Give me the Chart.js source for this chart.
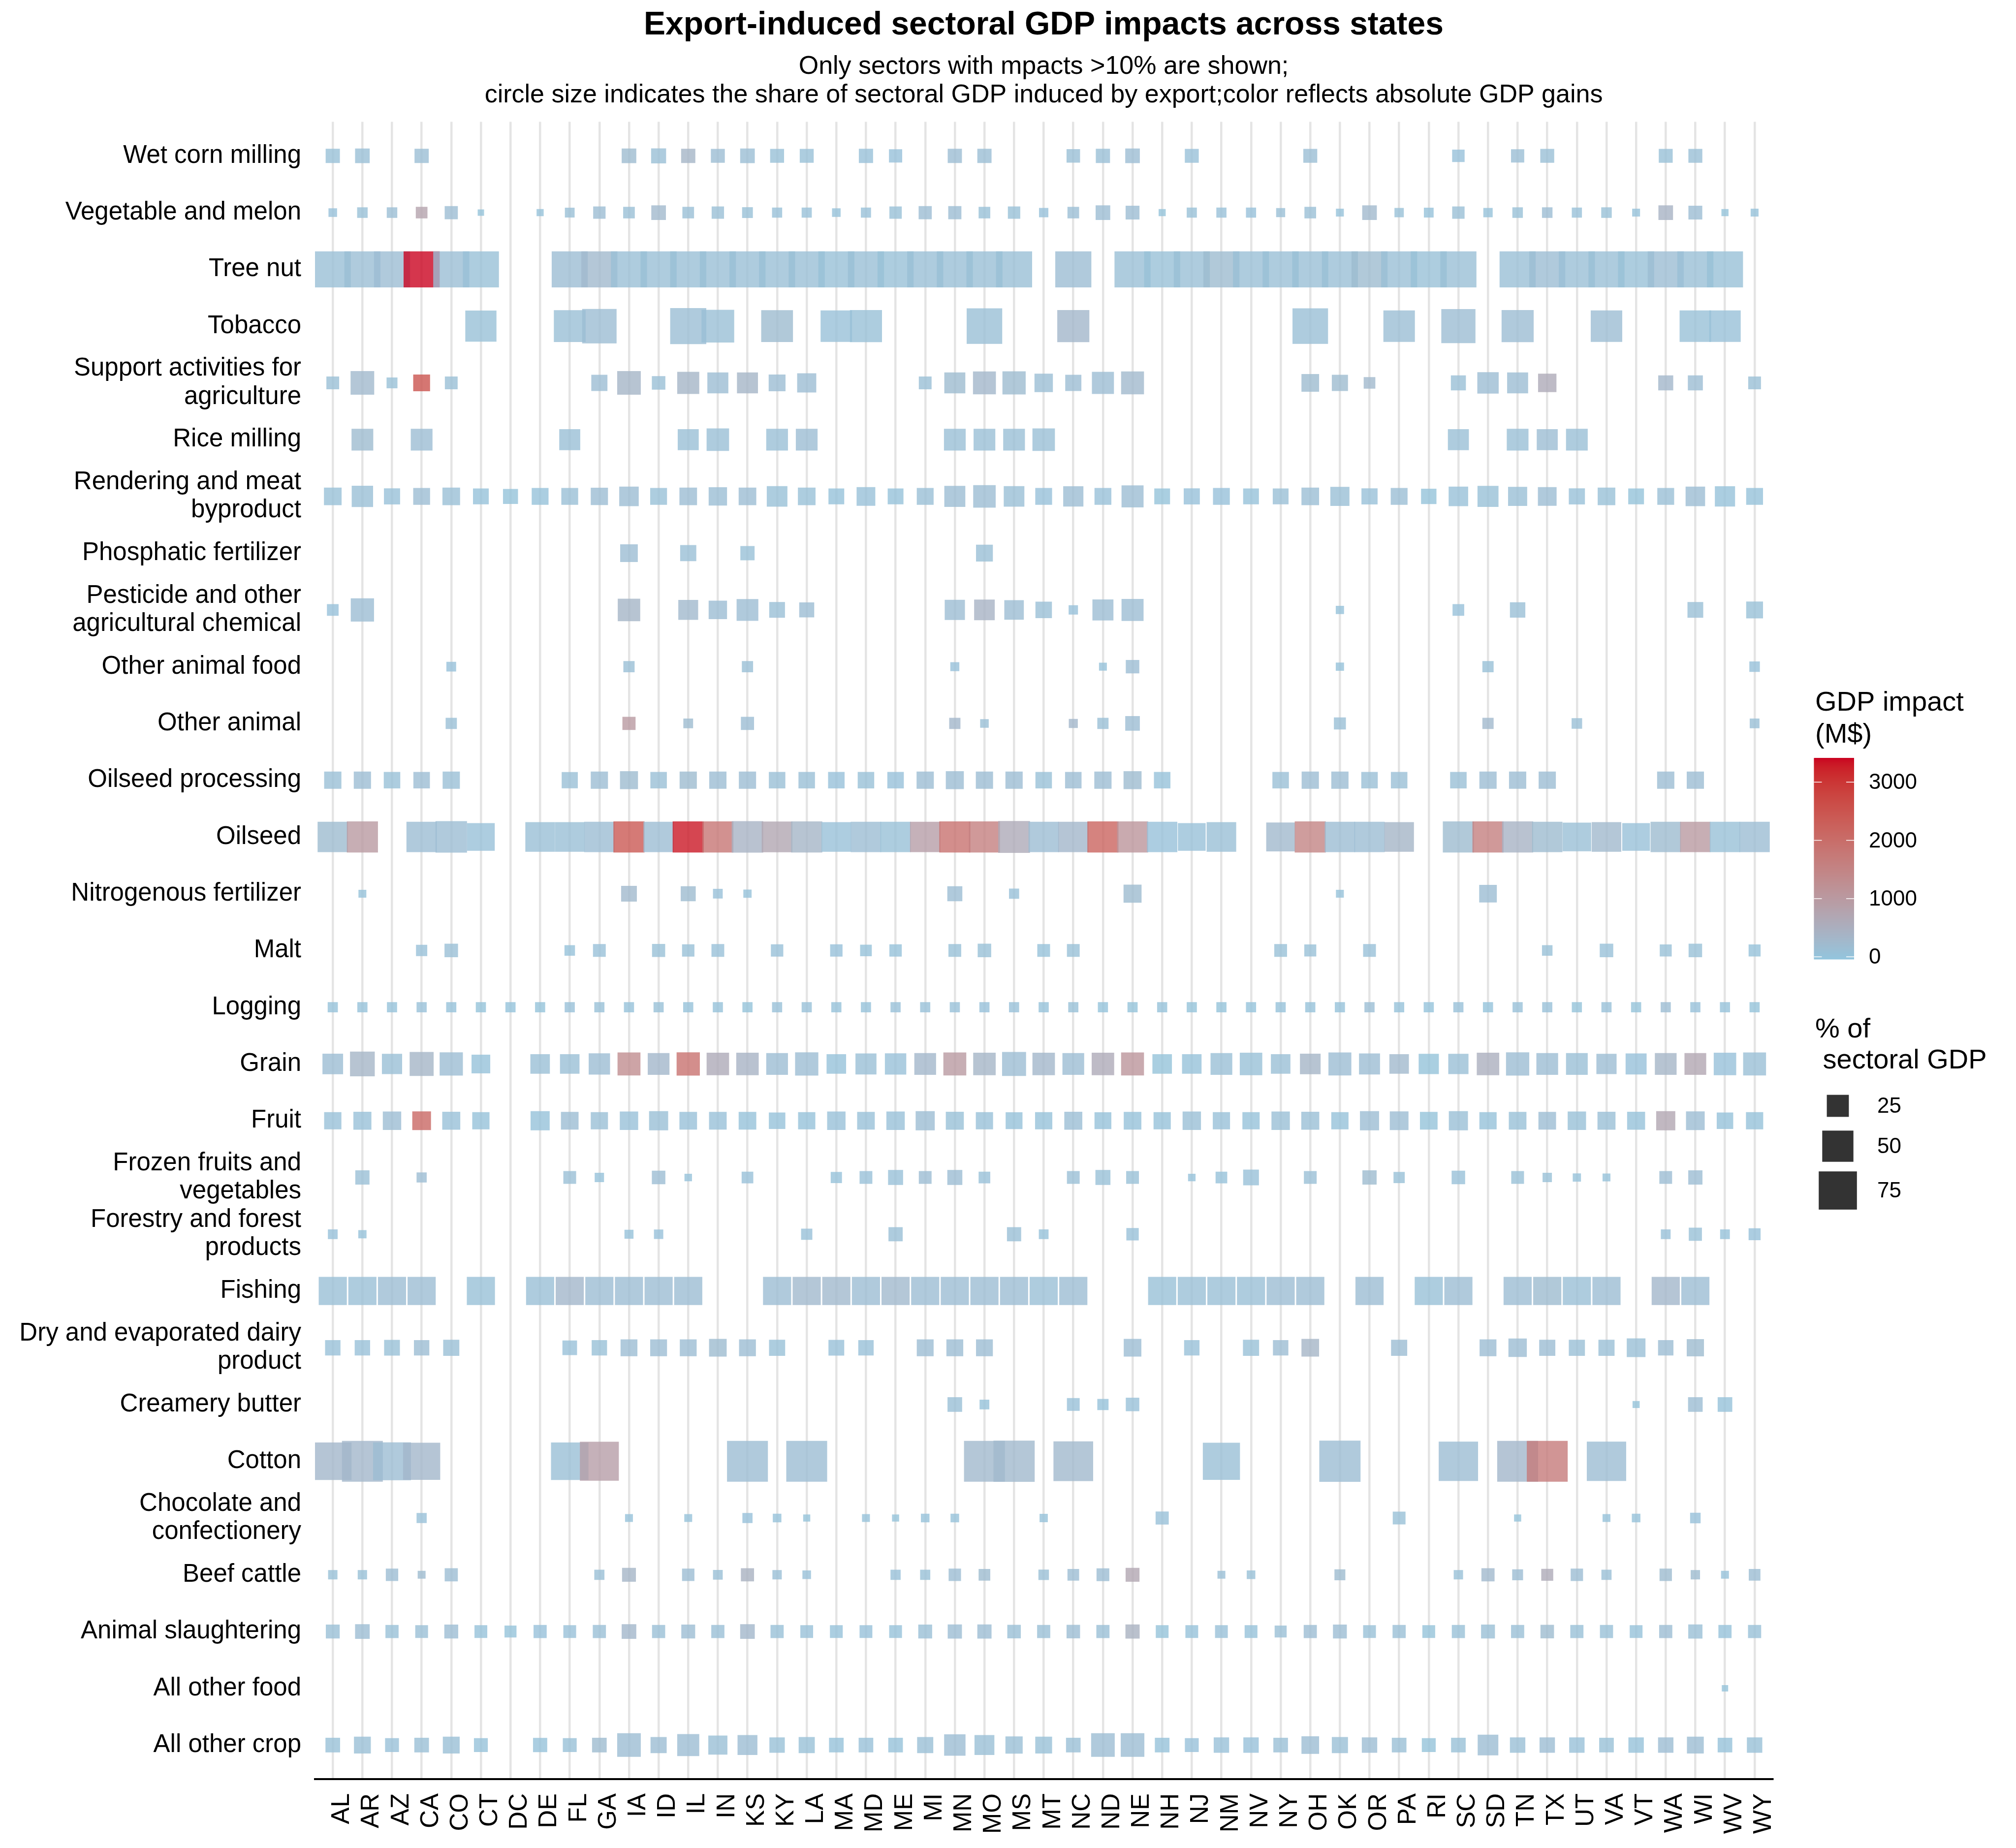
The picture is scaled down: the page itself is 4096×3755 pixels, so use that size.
<!DOCTYPE html>
<html><head><meta charset="utf-8">
<script src="https://cdn.jsdelivr.net/npm/chart.js@4.4.1/dist/chart.umd.min.js"></script>
<style>html,body{margin:0;padding:0;background:#fff;}#wrap{width:4096px;height:3755px;}</style>
</head><body><div id="wrap"><canvas id="c" width="4096" height="3755"></canvas></div>
<script>
const _ = null;
const states = ['AL','AR','AZ','CA','CO','CT','DC','DE','FL','GA','IA','ID','IL','IN','KS','KY','LA','MA','MD','ME','MI','MN','MO','MS','MT','NC','ND','NE','NH','NJ','NM','NV','NY','OH','OK','OR','PA','RI','SC','SD','TN','TX','UT','VA','VT','WA','WI','WV','WY'];
// top to bottom
const sectors = ['Wet corn milling','Vegetable and melon','Tree nut','Tobacco','Support activities for\nagriculture','Rice milling','Rendering and meat\nbyproduct','Phosphatic fertilizer','Pesticide and other\nagricultural chemical','Other animal food','Other animal','Oilseed processing','Oilseed','Nitrogenous fertilizer','Malt','Logging','Grain','Fruit','Frozen fruits and\nvegetables','Forestry and forest\nproducts','Fishing','Dry and evaporated dairy\nproduct','Creamery butter','Cotton','Chocolate and\nconfectionery','Beef cattle','Animal slaughtering','All other food','All other crop'];

// % of sectoral GDP induced by export (rows = sectors, cols = states)
const sharePct = [
[10.4,11,_,10.4,_,_,_,_,_,_, 11,11.6,10.4,10,11,10,10,_,10.4,9, _,10.4,10.4,_,_,9.4,10.4,11,_,10, _,_,_,10,_,_,_,_,8,_, 9,10,_,_,_,10,10,_,_],
[3.8,5.7,5.7,7,8.9,2.1,_,2.6,4.9,7.9, 7,11,7,7.9,6,5.3,5.3,3.8,5.3,7.9, 8.9,8.9,7,7.9,4.5,7,11,9.9,2.6,5.3, 5.3,5.3,4.2,7,3.2,11,4.5,4.9,7.9,4.5, 5.7,5.7,5.3,5.7,3.2,11,9.9,2.6,3.2],
[67,67,67,67,67,67,_,_,67,67, 67,67,67,67,67,67,67,67,67,67, 67,67,67,67,_,67,_,67,67,67, 67,67,67,67,67,67,67,67,67,_, 67,67,67,67,67,67,67,67,_],
[_,_,_,_,_,50,_,_,52,61, _,_,67,55,_,52,_,51,53,_, _,_,65,_,_,53,_,_,_,_, _,_,_,65,_,_,51,_,60,_, 53,_,_,51,_,_,51,51,_],
[8.4,28.7,6.1,14.6,8.4,_,_,_,_,13.4, 28.7,9.4,25,22.7,22.7,14.6,18.8,_,_,_, 8.4,22.7,27,27.8,17.4,13.4,25,27,_,_, _,_,_,16,13.4,7,_,_,11.6,23.5, 22.7,17.4,_,_,_,11.6,11.6,_,8.4],
[_,24.3,_,24.3,_,_,_,_,22.7,_, _,_,22.7,26,_,24.3,24.3,_,_,_, _,24.3,24.3,24.3,26,_,_,_,_,_, _,_,_,_,_,_,_,_,22.7,_, 24.3,22.7,24.3,_,_,_,_,_,_],
[16,23.5,13.4,14.6,16,12.8,11.6,14.6,14.6,15.3, 19.6,14.6,16,17.4,16,21.9,16,12.8,18,12.8, 14.6,22.7,26,21.9,14.6,21,14.6,25,12.8,13.4, 14.6,12.8,12.8,16,18.8,13.4,14.6,12.2,19.6,22.7, 18.8,18,13.4,16,12.8,14.6,19.6,21,14.6],
[_,_,_,_,_,_,_,_,_,_, 16,_,13.4,_,10.4,_,_,_,_,_, _,_,14.6,_,_,_,_,_,_,_, _,_,_,_,_,_,_,_,_,_, _,_,_,_,_,_,_,_,_],
[7,27.8,_,_,_,_,_,_,_,_, 26,_,20.3,17.4,24.3,12.8,11.6,_,_,_, _,21,21.9,19.6,14,4.5,22.7,25,_,_, _,_,_,_,3.5,_,_,_,7,_, 12.2,_,_,_,_,_,12.8,_,14.6],
[_,_,_,_,4.9,_,_,_,_,_, 6.5,_,_,_,6.5,_,_,_,_,_, _,4.2,_,_,_,_,3.2,9.4,_,_, _,_,_,_,3.5,_,_,_,_,6.5, _,_,_,_,_,_,_,_,5.7],
[_,_,_,_,6.5,_,_,_,_,_, 8.9,_,4.9,_,8.9,_,_,_,_,_, _,6.5,3.8,_,_,4.2,6.5,11,_,_, _,_,_,_,7.4,_,_,_,_,6.5, _,_,5.7,_,_,_,_,_,4.9],
[15.3,15.3,14,14,15.3,_,_,_,13.4,15.3, 16.7,14,15.3,15.3,15.3,14,14,14,14,14, 15.3,16.7,15.3,15.3,14,14,15.3,16.7,14,_, _,_,14,15.3,15.3,14,14,_,14,15.3, 15.3,15.3,_,_,_,15.3,15.3,_,_],
[47.4,49.8,_,47.4,51,39.6,_,45,45,47.4, 49.8,47.4,49.8,49.8,51,48.6,49.8,45,47.4,47.4, 47.4,49.8,49.8,52,47.4,47.4,49.8,49.8,47.4,39.6, 45,_,42.9,49.8,47.4,47.4,45,_,49.8,49.8, 49.8,47.4,42,45,39.6,47.4,47.4,47.4,47.4],
[_,3.2,_,_,_,_,_,_,_,_, 12.8,_,11.6,4.9,3.5,_,_,_,_,_, _,11.6,_,5.3,_,_,_,16.7,_,_, _,_,_,_,3.2,_,_,_,_,16, _,_,_,_,_,_,_,_,_],
[_,_,_,6.5,9.4,_,_,_,5.7,8.4, _,8.9,7.9,8.4,_,7.9,_,7.9,7,7.9, _,8.4,9.4,_,8.4,8.4,_,_,_,_, _,_,8.4,7.4,_,8.4,_,_,_,_, _,5.7,_,9.4,_,7.4,9.4,_,7.4],
[5.3,5.3,5.3,5.3,5.3,5.3,5.3,5.3,5.3,5.3, 5.3,5.3,5.3,5.3,5.3,5.3,5.3,5.3,5.3,5.3, 5.3,5.3,5.3,5.3,5.3,5.3,5.3,5.3,5.3,5.3, 5.3,5.3,5.3,5.3,5.3,5.3,5.3,5.3,5.3,5.3, 5.3,5.3,5.3,5.3,5.3,5.3,5.3,5.3,5.3],
[21.9,31.5,21,29.6,27.8,18,_,19.6,19.6,23.5, 27,24.3,27.8,26,26,24.3,27.8,19.6,22.7,23.5, 24.3,27,26,29.6,26,24.3,26,27,19.6,19.6, 24.3,26,19.6,21.9,27,22.7,19.6,21,21,26, 27.8,24.3,24.3,21,22.7,24.3,24.3,26,27],
[15.3,16.7,17.4,18,16.7,15.3,_,18.8,16,15.3, 17.4,18.8,16,16,16,14,15.3,17.4,16,17.4, 18.8,16.7,15.3,14.6,15.3,16.7,14.6,16,15.3,17.4, 15.3,15.3,17.4,16.7,15.3,18.8,18,16,18.8,15.3, 16,16,17.4,16.7,16.7,18.8,18,14,15.3],
[_,10.4,_,5.3,_,_,_,_,8.4,4.5, _,9.4,2.9,_,7,_,_,6.5,8.4,11.6, 8.4,11.6,7,_,_,8.4,11.6,8.4,_,2.9, 7,12.8,_,8.4,_,10.4,6.5,_,9.4,_, 8.4,4.5,3.5,3.2,_,8.4,10.4,_,_],
[4.9,3.5,_,_,_,_,_,_,_,_, 4.2,4.5,_,_,_,_,6.5,_,_,10.4, _,_,_,10.4,4.9,_,_,7.9,_,_, _,_,_,_,_,_,_,_,_,_, _,_,_,_,_,4.9,8.9,4.9,7.4],
[40.7,40.7,40.7,40.7,_,40.7,_,40.7,40.7,40.7, 40.7,40.7,40.7,_,_,40.7,40.7,40.7,40.7,40.7, 40.7,40.7,40.7,40.7,40.7,40.7,_,_,40.7,40.7, 40.7,40.7,40.7,40.7,_,40.7,_,40.7,40.7,_, 40.7,40.7,40.7,40.7,_,40.7,40.7,_,_],
[12.2,12.2,12.8,12.2,13.4,_,_,_,11,12.2, 14.6,14.6,14.6,16,14.6,13.4,_,12.8,12.2,_, 14.6,14.6,14.6,_,_,_,_,16,_,12.2, _,13.4,12.2,16,_,_,13.4,_,_,14.6, 17.4,13.4,13.4,13.4,18,12.2,15.3,_,_],
[_,_,_,_,_,_,_,_,_,_, _,_,_,_,_,_,_,_,_,_, _,11,4.9,_,_,8.4,6.5,9.4,_,_, _,_,_,_,_,_,_,_,_,_, _,_,_,_,2.6,_,11,11,_],
[72.3,86,73.8,71,_,_,_,_,72.3,78, _,_,_,_,86,_,86,_,_,_, _,_,86,87.5,_,81,_,_,_,_, 71,_,_,_,87.5,_,_,_,79.7,_, 86,86,_,79.7,_,_,_,_,_],
[_,_,_,5.3,_,_,_,_,_,_, 3.2,_,3.2,_,5.3,3.8,2.6,_,3.2,2.6, 3.8,3.8,_,_,3.5,_,_,_,8.9,_, _,_,_,_,_,_,8.4,_,_,_, 2.6,_,_,3.2,3.8,_,5.7,_,_],
[4.5,4.5,7.9,3.2,8.9,_,_,_,_,5.3, 9.9,_,7.9,4.9,8.9,4.5,3.8,_,_,5.3, 5.3,7.9,7,_,5.7,7,8.4,9.9,_,_, 3.2,3.8,_,_,6.1,_,_,_,4.5,8.9, 6.1,7.4,7.9,5.3,_,7.9,4.5,3.2,7],
[9.9,11,8.9,8.4,9.9,8.4,7.4,8.9,8.4,8.9, 11,8.9,9.9,8.9,11,8.9,8.4,8.4,8.4,8.4, 9.9,10.4,10.4,9.4,8.9,9.4,8.9,10.4,8.4,8.4, 8.4,8.4,7.4,8.9,9.9,8.4,8.9,8.4,8.9,9.9, 8.9,9.4,8.9,8.9,8.4,8.9,10.4,8.9,8.9],
[_,_,_,_,_,_,_,_,_,_, _,_,_,_,_,_,_,_,_,_, _,_,_,_,_,_,_,_,_,_, _,_,_,_,_,_,_,_,_,_, _,_,_,_,_,_,_,2.1,_],
[11,14.6,9.9,11,14.6,9.9,_,10.4,9.9,11, 28.7,13.4,25,18.8,20.3,12.2,13.4,11,11,11, 13.4,23.5,20.3,15.3,14.6,11,28.7,28.7,11,9.9, 12.2,12.2,11,16,13.4,12.2,11,9.9,11,21.9, 12.2,12.2,12.2,11,12.2,12.2,14.6,11,12.2]
];

// GDP impact, M$ (same layout)
const gdpImpact = [
[80,100,_,120,_,_,_,_,_,_, 200,100,350,150,120,80,80,_,60,50, _,150,120,_,_,100,100,150,_,60, _,_,_,120,_,_,_,_,50,_, 120,100,_,_,_,80,100,_,_],
[50,80,120,800,150,20,_,30,100,150, 100,250,100,100,80,60,60,40,60,80, 150,150,80,80,50,120,150,150,20,80, 60,50,100,100,40,250,80,40,100,40, 80,150,60,80,30,400,150,20,30],
[100,120,150,3400,120,80,_,_,150,250, 100,100,100,100,100,100,100,80,100,80, 100,100,100,100,_,150,_,100,80,100, 200,100,100,100,100,200,100,80,100,_, 100,150,100,100,80,150,100,80,_],
[_,_,_,_,_,80,_,_,100,150, _,_,120,100,_,200,_,60,80,_, _,_,100,_,_,300,_,_,_,_, _,_,_,100,_,_,120,_,150,_, 150,_,_,150,_,_,80,60,_],
[100,250,80,2500,100,_,_,_,_,150, 350,100,350,150,350,150,150,_,_,_, 100,200,300,200,120,150,150,250,_,_, _,_,_,200,200,250,_,_,100,150, 150,600,_,_,_,300,150,_,100],
[_,200,_,150,_,_,_,_,100,_, _,_,100,100,_,100,150,_,_,_, _,100,100,100,100,_,_,_,_,_, _,_,_,_,_,_,_,_,100,_, 100,150,100,_,_,_,_,_,_],
[80,100,60,150,100,30,20,40,100,150, 150,80,150,120,150,80,80,40,60,30, 100,150,150,100,50,150,60,150,20,50, 50,40,100,120,100,60,120,20,60,80, 100,150,60,80,20,100,150,40,40],
[_,_,_,_,_,_,_,_,_,_, 150,_,100,_,80,_,_,_,_,_, _,_,100,_,_,_,_,_,_,_, _,_,_,_,_,_,_,_,_,_, _,_,_,_,_,_,_,_,_],
[50,150,_,_,_,_,_,_,_,_, 350,_,250,150,150,100,150,_,_,_, _,150,400,150,100,50,150,150,_,_, _,_,_,_,30,_,_,_,50,_, 100,_,_,_,_,_,100,_,80],
[_,_,_,_,50,_,_,_,_,_, 100,_,_,_,100,_,_,_,_,_, _,50,_,_,_,_,40,150,_,_, _,_,_,_,40,_,_,_,_,80, _,_,_,_,_,_,_,_,50],
[_,_,_,_,100,_,_,_,_,_, 1000,_,200,_,150,_,_,_,_,_, _,300,100,_,_,300,100,150,_,_, _,_,_,_,100,_,_,_,_,250, _,_,100,_,_,_,_,_,100],
[100,150,80,150,100,_,_,_,100,150, 200,100,200,150,150,100,100,50,80,50, 150,150,150,150,80,150,150,200,40,_, _,_,100,150,150,100,100,_,100,150, 150,150,_,_,_,150,150,_,_],
[200,1000,_,150,150,60,_,100,100,150, 2400,150,3300,1800,400,700,350,60,150,80, 900,1900,1600,600,150,300,2200,1100,50,60, 100,_,250,1500,150,150,350,_,200,1600, 400,200,100,250,60,200,1000,80,150],
[_,30,_,_,_,_,_,_,_,_, 250,_,200,60,40,_,_,_,_,_, _,150,_,60,_,_,_,200,_,_, _,_,_,_,40,_,_,_,_,150, _,_,_,_,_,_,_,_,_],
[_,_,_,60,100,_,_,_,40,60, _,80,80,60,_,60,_,50,40,30, _,80,80,_,40,80,_,_,_,_, _,_,80,80,_,60,_,_,_,_, _,80,_,60,_,80,80,_,40],
[40,40,30,60,40,20,10,20,60,80, 30,80,30,40,20,60,60,30,30,60, 60,60,50,60,40,80,10,20,30,20, 20,10,40,40,30,120,40,10,60,10, 60,60,20,60,20,150,50,40,20],
[150,350,100,350,150,30,_,100,100,150, 1300,300,1900,600,400,150,150,30,100,60, 300,1000,350,150,300,150,600,1100,20,40, 100,80,100,350,150,150,250,20,100,500, 150,150,100,150,50,350,700,50,100],
[60,60,150,2100,60,40,_,40,150,100, 60,100,60,60,40,40,40,60,60,60, 150,80,60,40,40,120,30,40,30,100, 60,40,100,100,40,150,150,20,100,30, 80,150,80,100,40,700,150,30,30],
[_,100,_,150,_,_,_,_,100,40, _,150,30,_,60,_,_,40,60,60, 150,150,60,_,_,100,80,80,_,30, 40,60,_,100,_,200,80,_,60,_, 80,80,30,30,_,150,150,_,_],
[50,40,_,_,_,_,_,_,_,_, 40,50,_,_,_,_,60,_,_,100, _,_,_,100,40,_,_,60,_,_, _,_,_,_,_,_,_,_,_,_, _,_,_,_,_,60,80,40,50],
[100,100,150,150,_,80,_,100,300,150, 150,150,150,_,_,150,250,250,150,250, 150,150,150,150,100,150,_,_,80,100, 100,100,150,150,_,150,_,80,150,_, 150,200,100,150,_,300,150,_,_],
[60,60,80,150,100,_,_,_,60,80, 150,150,150,200,150,80,_,60,60,_, 150,150,150,_,_,_,_,150,_,60, _,80,150,350,_,_,150,_,_,150, 150,150,100,100,100,150,200,_,_],
[_,_,_,_,_,_,_,_,_,_, _,_,_,_,_,_,_,_,_,_, _,100,40,_,_,60,40,60,_,_, _,_,_,_,_,_,_,_,_,_, _,_,_,_,20,_,150,40,_],
[300,300,150,300,_,_,_,_,100,900, _,_,_,_,150,_,150,_,_,_, _,_,250,250,_,250,_,_,_,_, 100,_,_,_,150,_,_,_,150,_, 300,1700,_,150,_,_,_,_,_],
[_,_,_,60,_,_,_,_,_,_, 30,_,30,_,50,30,20,_,30,20, 30,30,_,_,30,_,_,_,60,_, _,_,_,_,_,_,80,_,_,_, 20,_,_,30,30,_,50,_,_],
[80,80,150,200,150,_,_,_,_,100, 350,_,150,100,450,100,60,_,_,60, 80,150,200,_,100,150,150,700,_,_, 100,80,_,_,200,_,_,_,80,250, 150,600,150,100,_,200,200,40,150],
[100,150,80,100,150,30,20,50,60,100, 300,100,150,100,300,80,60,30,50,30, 100,150,150,100,100,150,100,450,20,40, 60,40,100,150,150,80,100,20,80,100, 100,200,80,80,30,150,100,40,80],
[_,_,_,_,_,_,_,_,_,_, _,_,_,_,_,_,_,_,_,_, _,_,_,_,_,_,_,_,_,_, _,_,_,_,_,_,_,_,_,_, _,_,_,_,_,_,_,20,_],
[80,100,60,100,100,30,_,40,80,200, 150,150,150,100,150,80,80,40,60,40, 100,150,100,100,80,100,150,150,30,50, 60,50,100,150,100,150,100,20,80,150, 100,150,60,80,40,150,150,40,80]
];

const colorTicks = [0, 1000, 2000, 3000];
const sizeTicks = [25, 50, 75];
const gdpLimits = [-40, 3415];
const titleText = 'Export-induced sectoral GDP impacts across states';
const subtitleLines = ['Only sectors with mpacts >10% are shown;', 'circle size indicates the share of sectoral GDP induced by export;color reflects absolute GDP gains'];

// ---------- helpers ----------
const FAM = "'Liberation Sans', Arial, Helvetica, sans-serif";
const LOW = [146,197,222], HIGH = [202,0,32];
function toLab(c){
  const lin = v => { v/=255; return v<=0.04045 ? v/12.92 : Math.pow((v+0.055)/1.055,2.4); };
  const R=lin(c[0]),G=lin(c[1]),B=lin(c[2]);
  const X=(0.4124*R+0.3576*G+0.1805*B)/0.95047, Y=0.2126*R+0.7152*G+0.0722*B, Z=(0.0193*R+0.1192*G+0.9505*B)/1.08883;
  const f=t=>t>0.008856?Math.cbrt(t):7.787*t+16/116;
  return [116*f(Y)-16, 500*(f(X)-f(Y)), 200*(f(Y)-f(Z))];
}
function fromLab(l){
  const fy=(l[0]+16)/116, fx=fy+l[1]/500, fz=fy-l[2]/200;
  const fi=t=>{const t3=t*t*t; return t3>0.008856?t3:(t-16/116)/7.787;};
  const X=fi(fx)*0.95047, Y=fi(fy), Z=fi(fz)*1.08883;
  const R=3.2406*X-1.5372*Y-0.4986*Z, G=-0.9689*X+1.8758*Y+0.0415*Z, B=0.0557*X-0.2040*Y+1.0570*Z;
  const g=v=>{v=v<=0.0031308?12.92*v:1.055*Math.pow(v,1/2.4)-0.055; return Math.round(Math.min(1,Math.max(0,v))*255);};
  return [g(R),g(G),g(B)];
}
const LOWL = toLab(LOW), HIGHL = toLab(HIGH);
function colorOf(v, a){
  let t = (v-gdpLimits[0])/(gdpLimits[1]-gdpLimits[0]); t=Math.max(0,Math.min(1,t));
  const c = fromLab([0,1,2].map(i=>LOWL[i]+(HIGHL[i]-LOWL[i])*t));
  return `rgba(${c[0]},${c[1]},${c[2]},${a})`;
}
const SIDE_K = 8.96;
const sideOf = v => SIDE_K*Math.sqrt(v);

const points = [];
sectors.forEach((s,i)=>states.forEach((st,j)=>{
  const v = sharePct[i][j];
  if (v !== null && v !== undefined) points.push({x:j, y:i, share:v, gdp:gdpImpact[i][j]});
}));

const legendPlugin = {
  id:'gdpLegend',
  afterDraw(chart){
    const ctx = chart.ctx; ctx.save();
    ctx.fillStyle='#000'; ctx.textAlign='left'; ctx.textBaseline='alphabetic';
    ctx.font = `56px ${FAM}`;
    ctx.fillText('GDP impact', 3688, 1444);
    ctx.fillText('(M$)', 3688, 1509);
    const bx=3685.5, bw=81.5, bt=1540, bb=1949;
    const yOf = v => bb - (v-gdpLimits[0])/(gdpLimits[1]-gdpLimits[0])*(bb-bt);
    for (let y=bt; y<bb; y+=1){
      const v = gdpLimits[1] - (y+0.5-bt)/(bb-bt)*(gdpLimits[1]-gdpLimits[0]);
      ctx.fillStyle = colorOf(v,1); ctx.fillRect(bx, y, bw, 1.5);
    }
    ctx.strokeStyle='#fff'; ctx.lineWidth=1.5;
    ctx.font = `44px ${FAM}`; ctx.textBaseline='middle';
    colorTicks.forEach(v=>{
      const y=yOf(v);
      ctx.beginPath(); ctx.moveTo(bx,y); ctx.lineTo(bx+16,y); ctx.moveTo(bx+bw-16,y); ctx.lineTo(bx+bw,y); ctx.stroke();
      ctx.fillStyle='#000'; ctx.fillText(String(v), 3797, y+2);
    });
    ctx.textBaseline='alphabetic'; ctx.font = `56px ${FAM}`; ctx.fillStyle='#000';
    ctx.fillText('% of', 3688, 2108);
    ctx.fillText(' sectoral GDP', 3688, 2171);
    const ys=[2247,2329,2419];
    ctx.font = `44px ${FAM}`; ctx.textBaseline='middle';
    sizeTicks.forEach((v,k)=>{
      const s=sideOf(v);
      ctx.fillStyle='rgba(0,0,0,0.8)'; ctx.fillRect(3734-s/2, ys[k]-s/2, s, s);
      ctx.fillStyle='#000'; ctx.fillText(String(v), 3814, ys[k]+2);
    });
    ctx.restore();
  }
};

new Chart(document.getElementById('c'), {
  type:'scatter',
  data:{datasets:[{
    data: points,
    pointStyle:'rect',
    pointRadius: c => c.raw ? sideOf(c.raw.share)/Math.SQRT2 : 0,
    pointHoverRadius: c => c.raw ? sideOf(c.raw.share)/Math.SQRT2 : 0,
    pointBackgroundColor: c => c.raw ? colorOf(c.raw.gdp,0.8) : 'rgba(0,0,0,0)',
    pointBorderWidth:0, pointHoverBorderWidth:0
  }]},
  options:{
    responsive:false, animation:false, events:[],
    layout:{padding:{left:0,right:495,top:0,bottom:0}},
    plugins:{
      legend:{display:false}, tooltip:{enabled:false},
      title:{display:true, text:titleText, fullSize:false, color:'#000', font:{family:FAM,size:66,weight:'bold',lineHeight:1.2}, padding:{top:11.8,bottom:0}},
      subtitle:{display:true, text:subtitleLines, fullSize:false, color:'#000', font:{family:FAM,size:52,lineHeight:1.1}, padding:{top:16.4,bottom:25.7}}
    },
    scales:{
      x:{type:'linear', min:-0.6, max:states.length-1+0.6,
        afterBuildTicks:s=>{s.ticks=states.map((_,i)=>({value:i}));},
        afterFit:s=>{s.height=140;},
        ticks:{autoSkip:false, maxRotation:90, minRotation:90, padding:29, labelOffset:19, color:'#000', font:{family:FAM,size:51}, callback:v=>states[v]},
        grid:{display:true, color:'#e4e4e4', lineWidth:4.5, drawTicks:false, tickLength:0},
        border:{display:true, color:'#000', width:4}},
      y:{type:'linear', reverse:true, min:-0.6, max:sectors.length-1+0.6,
        afterBuildTicks:s=>{s.ticks=sectors.map((_,i)=>({value:i}));},
        afterFit:s=>{s.width=640;},
        ticks:{autoSkip:false, padding:28, color:'#000', font:{family:FAM,size:51,lineHeight:1.12}, callback:v=>sectors[v].split('\n')},
        grid:{display:false, drawTicks:false, tickLength:0},
        border:{display:false}}
    }
  },
  plugins:[legendPlugin]
});
</script></body></html>
